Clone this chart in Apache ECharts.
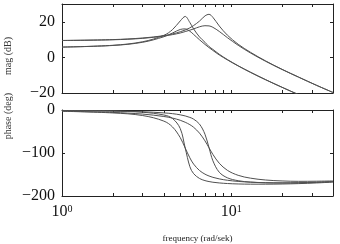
<!DOCTYPE html>
<html>
<head>
<meta charset="utf-8">
<script src="https://cdn.jsdelivr.net/npm/echarts@6/dist/echarts.min.js"></script>
<style>
  html, body { margin: 0; padding: 0; background: #fff; }
  #container { width: 340px; height: 244px; }
</style>
</head>
<body>
<div id="container"></div>
<script>
// frequency points (rad/sek)
var freq = [1, 2, 3, 4, 4.5, 5, 5.35, 5.7, 6, 6.5, 7, 7.4, 7.8, 8.5, 9.5, 11, 13, 16, 20, 25, 32, 40];

// magnitude (dB)
var magA = [5.8, 6.8, 8.8, 12.4, 15.6, 20.5, 23, 19.6, 16, 11.5, 8.5, 6.1, 4.5, 1.8, -1.2, -4.7, -8.3, -12.5, -16.8, -20.9, -25.3, -29.2];
var magB = [9.5, 10, 10.9, 12.2, 13.2, 14.4, 15.4, 16.6, 17.9, 20.4, 23.3, 24.2, 22.5, 17.7, 12.5, 7.4, 2.9, -2, -6.7, -11, -15.7, -19.7];
var magC = [9.5, 9.9, 10.7, 12, 12.8, 13.7, 14.5, 15.3, 16, 17.2, 17.8, 17.7, 16.9, 14.6, 11.1, 6.8, 2.5, -2.2, -6.8, -11.1, -15.7, -19.7];
var magD = [5.8, 6.7, 8.5, 11.6, 13.7, 15.7, 16, 14.7, 12.9, 9.9, 7.3, 5.5, 3.9, 1.4, -1.4, -4.8, -8.4, -12.6, -16.8, -20.9, -25.3, -29.2];

// phase (deg)
var phA = [-1.2, -2.7, -5.3, -11.6, -19.7, -43.1, -88.5, -131.8, -148.1, -159.2, -164.2, -166.4, -168, -169.6, -171, -172, -172.5, -172.5, -172.1, -171.2, -169.6, -167.7];
var phB = [-1.1, -2.4, -4.1, -6.7, -8.5, -11.2, -13.8, -17.2, -21.3, -32.8, -56.3, -87.9, -118.1, -144.6, -157.7, -164.4, -167.7, -169.4, -169.9, -169.6, -168.4, -166.7];
var phC = [-2.7, -5.7, -9.5, -15.1, -18.8, -23.9, -28.5, -34.1, -40.2, -53.8, -71.7, -87.9, -103.3, -123.7, -140.3, -151.9, -158.5, -162.8, -165, -165.9, -165.6, -165];
var phD = [-3, -6.8, -12.9, -25.8, -39.4, -64.2, -88.5, -111.3, -125.8, -140.7, -149.2, -153.5, -156.6, -160.2, -163.4, -166.1, -167.8, -169, -169.4, -169, -167.9, -166.4];

// tick marks
var magTicks = [-20, 0, 20];
var phaseTicks = [-200, -100, 0];
var freqTicks = [2, 3, 4, 5, 6, 7, 8, 9, 10, 20, 30];
var freqLabels = [1, 10];

var serif = 'Liberation Serif';
var frameColor = '#222';
var lineColor = '#505050';

function pairs(ys) {
    return freq.map(function (f, i) { return [f, ys[i]]; });
}

function minus(v) {
    return v < 0 ? '\u2212' + (-v) : String(v);
}

function xAxisFor(gridIndex, pos, withLabels) {
    return {
        type: 'log',
        logBase: 10,
        gridIndex: gridIndex,
        position: pos,
        min: 1,
        max: 40,
        axisLine: { show: true, onZero: false, lineStyle: { color: frameColor, width: 1 } },
        axisTick: { show: true, inside: true, length: 3, customValues: freqTicks, lineStyle: { color: frameColor } },
        axisLabel: withLabels ? {
            show: true,
            customValues: freqLabels,
            margin: 8,
            formatter: function (v) {
                return '{b|10}{s|' + Math.round(Math.log10(v)) + '}';
            },
            rich: {
                b: { fontFamily: serif, fontSize: 16, color: '#111', verticalAlign: 'bottom', lineHeight: 16 },
                s: { fontFamily: serif, fontSize: 10, color: '#111', verticalAlign: 'top', lineHeight: 10 }
            }
        } : { show: false },
        splitLine: { show: false },
        minorTick: { show: false }
    };
}

function yAxisFor(gridIndex, pos, min, max, ticks, withLabels) {
    return {
        type: 'value',
        gridIndex: gridIndex,
        position: pos,
        min: min,
        max: max,
        axisLine: { show: true, onZero: false, lineStyle: { color: frameColor, width: 1 } },
        axisTick: { show: true, inside: true, length: 3, customValues: ticks, lineStyle: { color: frameColor } },
        axisLabel: withLabels ? {
            show: true,
            customValues: ticks,
            margin: 7,
            fontFamily: serif,
            fontSize: 16,
            color: '#111',
            formatter: minus
        } : { show: false },
        splitLine: { show: false }
    };
}

function curve(xi, yi, ys) {
    return {
        type: 'line',
        xAxisIndex: xi,
        yAxisIndex: yi,
        data: pairs(ys),
        smooth: 0.35,
        showSymbol: false,
        symbol: 'none',
        clip: true,
        lineStyle: { color: lineColor, width: 1 },
        silent: true
    };
}

var dom = document.getElementById('container');
var myChart = echarts.init(dom, null, { renderer: 'canvas' });

var xBottomMag = xAxisFor(0, 'bottom', false);
var xTopMag = xAxisFor(0, 'top', false);
var xBottomPh = xAxisFor(1, 'bottom', true);
xBottomPh.name = 'frequency (rad/sek)';
xBottomPh.nameLocation = 'middle';
xBottomPh.nameGap = 38;
xBottomPh.nameTextStyle = { fontFamily: serif, fontSize: 9, color: '#222' };
var xTopPh = xAxisFor(1, 'top', false);

var option = {
    backgroundColor: '#fff',
    animation: false,
    grid: [
        { left: 62, top: 4, width: 271, height: 89 },
        { left: 62, top: 110, width: 271, height: 89 }
    ],
    xAxis: [xBottomMag, xTopMag, xBottomPh, xTopPh],
    yAxis: [
        yAxisFor(0, 'left', -20, 30, magTicks, true),
        yAxisFor(0, 'right', -20, 30, magTicks, false),
        yAxisFor(1, 'left', -200, 0, phaseTicks, true),
        yAxisFor(1, 'right', -200, 0, phaseTicks, false)
    ],
    graphic: [
        {
            type: 'text', left: 3, top: 37, rotation: Math.PI / 2,
            style: { text: 'mag (dB)', fontFamily: serif, fontSize: 10, fill: '#333' }
        },
        {
            type: 'text', left: 3, top: 93, rotation: Math.PI / 2,
            style: { text: 'phase (deg)', fontFamily: serif, fontSize: 10, fill: '#333' }
        }
    ],
    series: [
        curve(0, 0, magA),
        curve(0, 0, magB),
        curve(0, 0, magC),
        curve(0, 0, magD),
        curve(2, 2, phA),
        curve(2, 2, phB),
        curve(2, 2, phC),
        curve(2, 2, phD)
    ]
};

if (option && typeof option === 'object') {
    myChart.setOption(option);
}
</script>
</body>
</html>
